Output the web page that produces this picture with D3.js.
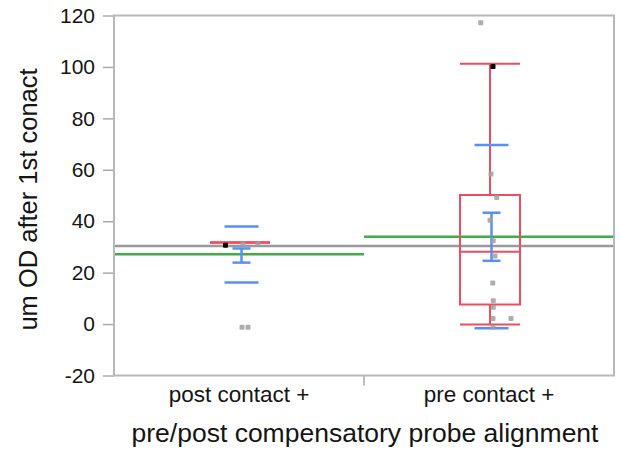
<!DOCTYPE html>
<html>
<head>
<meta charset="utf-8">
<script src="https://cdn.jsdelivr.net/npm/d3@7"></script>
<style>
  html, body { margin: 0; padding: 0; background: #fff; }
  svg { display: block; }
  text { font-family: "Liberation Sans", Arial, sans-serif; fill: #151515; }
</style>
</head>
<body>
<svg id="chart" width="620" height="455"></svg>
<script>
// ---- data ----
const groups = ["post contact +", "pre contact +"];
const yTicks = [-20, 0, 20, 40, 60, 80, 100, 120];
const grandMean = 30.4;
const groupMeans = [27.2, 34.0];
const seLow = [23.9, 24.6];
const seHigh = [29.4, 43.3];
const sdLow = [16.2, -1.6];
const sdHigh = [37.9, 69.6];
const whiskerLow = [31.7, -0.2];
const boxQ1 = [31.7, 7.6];
const boxMedian = [31.7, 28.1];
const boxQ3 = [31.7, 50.2];
const whiskerHigh = [31.7, 101.2];
// visible individual observations
const postValues = [30.7, 31.0, 31.0, -1.2, -1.2];
const postJitter = [-0.054, 0.016, 0.076, 0.012, 0.036];
const postSelected = [true, false, false, false, false];
const preValues = [117.2, 100.2, 58.4, 49.2, 40.4, 32.4, 26.5, 16.0, 9.1, 6.5, 2.2, 2.2, -1.2];
const preJitter = [-0.033, 0.016, 0.008, 0.031, 0.004, 0.017, 0.024, 0.015, 0.017, 0.017, 0.016, 0.088, 0.016];
const preSelected = [false, true, false, false, false, false, false, false, false, false, false, false, false];

const xLabel = "pre/post compensatory probe alignment";
const yLabel = "um OD after 1st conact";

// ---- layout ----
const svg = d3.select("#chart");
const pLeft = 114, pRight = 614, pTop = 15.5, pBottom = 375.5;
const RED = "#ee4d61", BLUE = "#5b8ff2", GREEN = "#3fae45", GREY = "#9a9a9a";

const x = d3.scaleBand().domain(groups).range([pLeft, pRight]).padding(0);
const y = d3.scaleLinear().domain([-20, 120]).range([pBottom, pTop]);
const cx = g => x(g) + x.bandwidth() / 2;
const bw = x.bandwidth();

// y axis
const yAxis = svg.append("g")
  .attr("transform", `translate(${pLeft},0)`)
  .call(d3.axisLeft(y).tickValues(yTicks).tickSize(11).tickPadding(8).tickFormat(d => String(d)));
yAxis.select(".domain").remove();
yAxis.selectAll(".tick line").attr("stroke", "#a8a8a8").attr("stroke-width", 1.5);
yAxis.selectAll(".tick text").attr("font-size", 21).attr("fill", "#151515")
  .style("font-family", "'Liberation Sans', Arial, sans-serif");

// x axis (divider tick + labels)
const xAxis = svg.append("g").attr("transform", `translate(0,${pBottom})`);
xAxis.append("line")
  .attr("x1", x(groups[1])).attr("x2", x(groups[1]))
  .attr("y1", 0).attr("y2", 10)
  .attr("stroke", "#a8a8a8").attr("stroke-width", 1.5);
xAxis.selectAll("text.xl").data(groups).join("text")
  .attr("class", "xl")
  .attr("x", d => cx(d)).attr("y", 26)
  .attr("text-anchor", "middle").attr("font-size", 22.5)
  .text(d => d);

// titles
svg.append("text")
  .attr("x", (pLeft + pRight) / 2 + 1).attr("y", 442)
  .attr("text-anchor", "middle").attr("font-size", 26.5)
  .text(xLabel);
svg.append("text")
  .attr("transform", `translate(37,${(pTop + pBottom) / 2 + 4}) rotate(-90)`)
  .attr("text-anchor", "middle").attr("font-size", 25.5)
  .text(yLabel);

// plot content
const plot = svg.append("g");

// grand mean
plot.append("line")
  .attr("x1", pLeft).attr("x2", pRight)
  .attr("y1", y(grandMean)).attr("y2", y(grandMean))
  .attr("stroke", GREY).attr("stroke-width", 2.5);

// group means (green)
plot.selectAll("line.gm").data(groups).join("line")
  .attr("class", "gm")
  .attr("x1", d => x(d)).attr("x2", d => x(d) + bw)
  .attr("y1", (d, i) => y(groupMeans[i])).attr("y2", (d, i) => y(groupMeans[i]))
  .attr("stroke", GREEN).attr("stroke-width", 2.5);

// box plots (red)
const boxW = bw * 0.24;
groups.forEach((g, i) => {
  const c = cx(g) + 1;
  const grp = plot.append("g");
  grp.append("line").attr("x1", c).attr("x2", c)
    .attr("y1", y(whiskerHigh[i])).attr("y2", y(boxQ3[i]))
    .attr("stroke", RED).attr("stroke-width", 2);
  grp.append("line").attr("x1", c).attr("x2", c)
    .attr("y1", y(boxQ1[i])).attr("y2", y(whiskerLow[i]))
    .attr("stroke", RED).attr("stroke-width", 2);
  [whiskerHigh[i], whiskerLow[i], boxMedian[i]].forEach(v => {
    grp.append("line").attr("x1", c - boxW / 2).attr("x2", c + boxW / 2)
      .attr("y1", y(v)).attr("y2", y(v))
      .attr("stroke", RED).attr("stroke-width", 2);
  });
  grp.append("rect")
    .attr("x", c - boxW / 2).attr("width", boxW)
    .attr("y", y(boxQ3[i])).attr("height", Math.max(0, y(boxQ1[i]) - y(boxQ3[i])))
    .attr("fill", "none").attr("stroke", RED).attr("stroke-width", 2);
});

// mean error bars & std dev lines (blue)
const seW = bw * 0.072, sdW = bw * 0.136;
groups.forEach((g, i) => {
  const c = cx(g) + 2.5;
  plot.append("line").attr("x1", c).attr("x2", c)
    .attr("y1", y(seHigh[i])).attr("y2", y(seLow[i]))
    .attr("stroke", BLUE).attr("stroke-width", 2.5);
  [seHigh[i], seLow[i]].forEach(v => {
    plot.append("line").attr("x1", c - seW / 2).attr("x2", c + seW / 2)
      .attr("y1", y(v)).attr("y2", y(v))
      .attr("stroke", BLUE).attr("stroke-width", 2.5);
  });
  [sdHigh[i], sdLow[i]].forEach(v => {
    plot.append("line").attr("x1", c - sdW / 2).attr("x2", c + sdW / 2)
      .attr("y1", y(v)).attr("y2", y(v))
      .attr("stroke", BLUE).attr("stroke-width", 2.5);
  });
});

// points
function drawPoints(g, vals, jit, sel) {
  const c = cx(g);
  plot.selectAll(null).data(vals.map((v, i) => ({v, j: jit[i], s: sel[i]}))).join("rect")
    .attr("x", d => c + d.j * bw - 2.5).attr("y", d => y(d.v) - 2.5)
    .attr("width", 5).attr("height", 5)
    .attr("rx", 1)
    .attr("fill", d => d.s ? "#000" : "#a0a0a0")
    .attr("opacity", d => d.s ? 1 : 0.85);
}
drawPoints(groups[0], postValues, postJitter, postSelected);
drawPoints(groups[1], preValues, preJitter, preSelected);

// frame
svg.append("rect")
  .attr("x", pLeft).attr("y", pTop).attr("width", pRight - pLeft).attr("height", pBottom - pTop)
  .attr("fill", "none").attr("stroke", "#b8b8b8").attr("stroke-width", 2);
</script>
</body>
</html>
